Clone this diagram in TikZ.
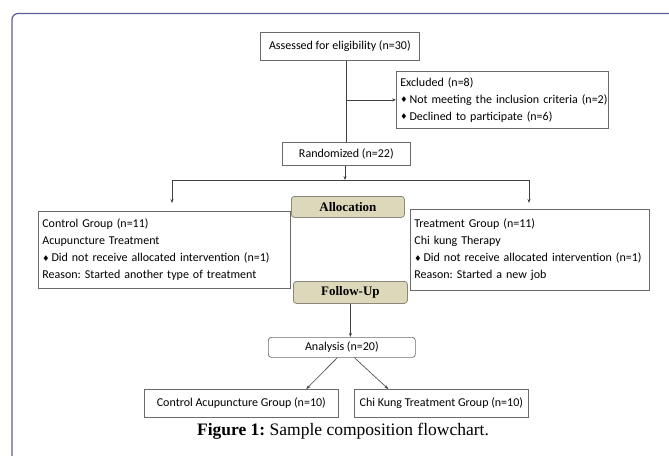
\documentclass[tikz,border=0pt]{standalone}
\usepackage{fontspec}
\setmainfont{Carlito}
\newfontfamily\serf{Liberation Serif}
\newfontfamily\symf{DejaVu Sans}
\usetikzlibrary{arrows.meta}
\definecolor{framec}{HTML}{5C5C99}
\definecolor{tanfill}{HTML}{DDD8BA}
\definecolor{tanedge}{HTML}{8A887C}
\definecolor{boxedge}{HTML}{6A6A6A}
\newcommand{\dia}{{\symf\fontsize{8}{8}\selectfont\raisebox{0.5pt}{♦}}\,}
\newcommand{\oneline}[1]{\mbox{#1}}
\frenchspacing
\tikzset{
  flowbox/.style={draw=boxedge, line width=0.7pt, fill=white, inner sep=0pt, font=\fontsize{12}{17}\selectfont},
  listbox/.style={flowbox, anchor=north west, align=left, inner xsep=4pt},
  tagbox/.style={draw=tanedge, line width=0.8pt, fill=tanfill, rounded corners=3pt, inner sep=0pt, anchor=north west, font=\serf\bfseries\fontsize{13}{13}\selectfont},
  conn/.style={draw=black!75, line width=0.6pt},
  arr/.style={conn, -{Stealth[length=4pt,width=3pt]}}
}
\begin{document}
\begin{tikzpicture}[x=1pt,y=-1pt]
\useasboundingbox (0,0) rectangle (669,455);
% outer frame
\draw[framec, line width=1.2pt, rounded corners=6pt] (12,470) -- (12,13.5) -- (690,13.5);

% nodes
\node[flowbox, anchor=north west, minimum width=159pt, minimum height=28pt] (assess) at (260,32) {Assessed for eligibility (n=30)};
\node[listbox, minimum width=212pt, minimum height=57pt, text width=204pt] (excl) at (396,71)
  {\oneline{Excluded (n=8)}\\ \oneline{\dia Not meeting the inclusion criteria (n=2)}\\ \oneline{\dia Declined to participate (n=6)}};
\node[flowbox, anchor=north west, minimum width=128pt, minimum height=23pt] (rand) at (282,142) {Randomized (n=22)};

\node[listbox, minimum width=252pt, minimum height=77pt, text width=244pt] (ctrl) at (38,211)
  {\oneline{Control Group (n=11)}\\ \oneline{Acupuncture Treatment}\\ \oneline{\dia Did not receive allocated intervention (n=1)}\\ \oneline{Reason: Started another type of treatment}};
\node[listbox, minimum width=239pt, minimum height=81pt, text width=231pt] (treat) at (410,209)
  {\oneline{Treatment Group (n=11)}\\ \oneline{Chi kung Therapy}\\ \oneline{\dia Did not receive allocated intervention (n=1)}\\ \oneline{Reason: Started a new job}};

\node[tagbox, minimum width=113pt, minimum height=21pt] (alloc) at (291,196) {Allocation};
\node[tagbox, minimum width=114pt, minimum height=22pt] (follow) at (293,281) {Follow-Up};

\node[flowbox, anchor=north west, rounded corners=3pt, minimum width=147pt, minimum height=20pt] (anal) at (268,337) {Analysis (n=20)};
\node[flowbox, anchor=north west, minimum width=194pt, minimum height=28pt] (cag) at (144,389) {Control Acupuncture Group (n=10)};
\node[flowbox, anchor=north west, minimum width=174pt, minimum height=28pt] (ktg) at (354,389) {Chi Kung Treatment Group (n=10)};

\node[anchor=center, font=\serf\fontsize{17.5}{18}\selectfont] (cap) at (343,431) {\textbf{Figure 1:} Sample composition flowchart.};

% connectors
\coordinate (split) at (345,180);
\coordinate (lend) at (172,203);
\coordinate (rend) at (529,203);
\draw[conn] (assess.south -| rand.north) -- (rand.north);
\draw[arr] (rand.north |- excl.west) -- (excl.west);
\draw[arr] (rand.south -| split) -- (split);
\draw[arr] (split) -| (lend);
\draw[arr] (split) -| (rend);
\draw[arr] (follow.south) -- (follow.south |- anal.north);
\draw[arr] ([xshift=-4.5pt]anal.south) -- ([xshift=65pt]cag.north);
\draw[arr] ([xshift=12.5pt]anal.south) -- ([xshift=-53pt]ktg.north);
\end{tikzpicture}
\end{document}
